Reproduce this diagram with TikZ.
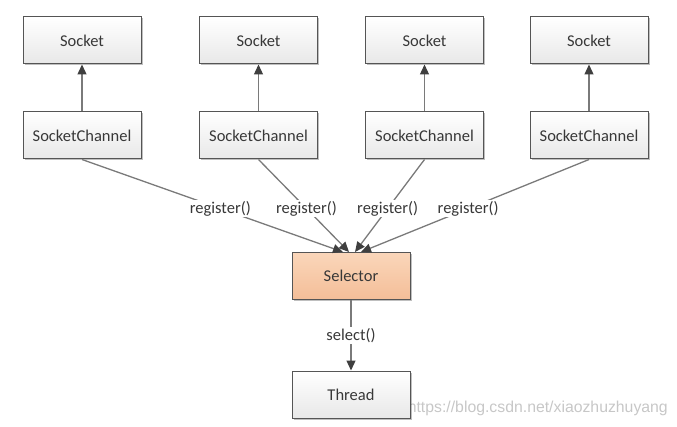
\documentclass[tikz,border=0pt]{standalone}
\usepackage{fontspec}
\setmainfont{Carlito}
\newfontfamily\wmfont{Liberation Sans}
\usetikzlibrary{shadows,arrows.meta}
\definecolor{txt}{HTML}{383838}
\definecolor{edge}{HTML}{555555}
\definecolor{ln}{HTML}{7A7A7A}
\definecolor{tipc}{HTML}{3F3F3F}
\definecolor{peachA}{HTML}{FAD6BA}
\definecolor{peachB}{HTML}{F4BE98}
\tikzset{
  box/.style={draw=edge, line width=1pt, minimum width=118pt, minimum height=47pt,
    top color=white, bottom color=black!9, text=txt, font=\fontsize{16.5}{18}\selectfont,
    drop shadow={shadow xshift=1.5pt, shadow yshift=-1.5pt, opacity=0.25, fill=black}},
  selbox/.style={box, top color=peachA, bottom color=peachB},
  conn/.style={draw=ln, line width=1.3pt, -{Triangle[length=10pt,width=9pt,color=tipc]}},
  lbl/.style={fill=white, inner sep=1.5pt, text=txt, font=\fontsize{16.5}{18}\selectfont}
}
\begin{document}
\begin{tikzpicture}[x=1pt,y=-1pt]
\useasboundingbox (0,0) rectangle (677,427);
\node[box] (s1) at (82,40.5) {Socket};
\node[box] (s2) at (258.5,40.5) {Socket};
\node[box] (s3) at (424.5,40.5) {Socket};
\node[box] (s4) at (589,40.5) {Socket};
\node[box] (c1) at (82,135.5) {SocketChannel};
\node[box] (c2) at (258.5,135.5) {SocketChannel};
\node[box] (c3) at (424.5,135.5) {SocketChannel};
\node[box] (c4) at (589,135.5) {SocketChannel};
\node[selbox] (sel) at (351,276) {Selector};
\node[anchor=east, text=black!22, font=\wmfont\fontsize{15.8}{17}\selectfont, inner sep=0pt] (wm) at (668,408) {https://blog.csdn.net/xiaozhuzhuyang};
\node[box] (th) at (351,394.5) {Thread};
\coordinate (t1) at (343,252);
\coordinate (t2) at (349,252);
\coordinate (t3) at (355,252);
\coordinate (t4) at (361,252);
\draw[conn] (c1) -- (s1);
\draw[conn] (c2) -- (s2);
\draw[conn] (c3) -- (s3);
\draw[conn] (c4) -- (s4);
\draw[conn] (c1.south) -- node[lbl, pos=0.53] {register()} (t1);
\draw[conn] (c2.south) -- node[lbl, pos=0.53] {register()} (t2);
\draw[conn] (c3.south) -- node[lbl, pos=0.53] {register()} (t3);
\draw[conn] (c4.south) -- node[lbl, pos=0.53] {register()} (t4);
\draw[conn] (sel) -- node[lbl, pos=0.5] {select()} (th);
\end{tikzpicture}
\end{document}
